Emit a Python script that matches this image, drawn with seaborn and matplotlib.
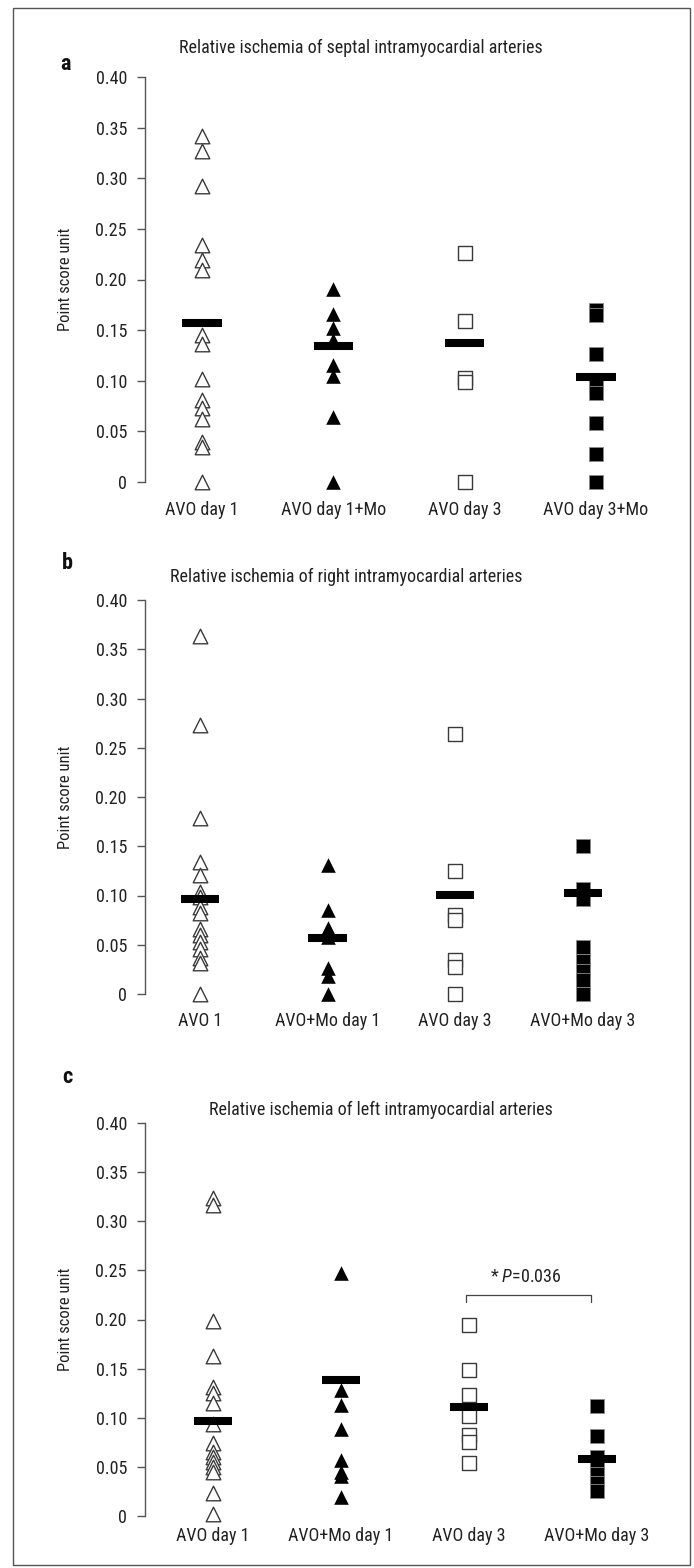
import matplotlib
matplotlib.use('Agg')
import matplotlib.pyplot as plt
import numpy as np
import pandas as pd
import seaborn as sns
from matplotlib import font_manager
from matplotlib.patches import Rectangle

# --- data ---
yticks = [0, 0.05, 0.10, 0.15, 0.20, 0.25, 0.30, 0.35, 0.40]
ytick_labels = ['0', '0.05', '0.10', '0.15', '0.20', '0.25', '0.30', '0.35', '0.40']

titles = ['Relative ischemia of septal intramyocardial arteries',
          'Relative ischemia of right intramyocardial arteries',
          'Relative ischemia of left intramyocardial arteries']
letters = ['a', 'b', 'c']

labels_a = ['AVO day 1', 'AVO day 1+Mo', 'AVO day 3', 'AVO day 3+Mo']
a_avo1 = [0.342, 0.327, 0.292, 0.234, 0.219, 0.209, 0.145, 0.136, 0.102,
          0.081, 0.073, 0.062, 0.040, 0.035, 0.0]
a_avo1_mo = [0.191, 0.166, 0.152, 0.140, 0.116, 0.105, 0.064, 0.0]
a_avo3 = [0.226, 0.159, 0.103, 0.099, 0.0]
a_avo3_mo = [0.170, 0.165, 0.126, 0.095, 0.088, 0.058, 0.028, 0.0]
a_means = [0.157, 0.134, 0.137, 0.104]

labels_b = ['AVO 1', 'AVO+Mo day 1', 'AVO day 3', 'AVO+Mo day 3']
b_avo1 = [0.363, 0.273, 0.179, 0.134, 0.121, 0.104, 0.098, 0.088, 0.082,
          0.066, 0.060, 0.053, 0.046, 0.037, 0.031, 0.0]
b_avo1_mo = [0.131, 0.085, 0.067, 0.058, 0.026, 0.018, 0.0]
b_avo3 = [0.264, 0.125, 0.080, 0.075, 0.035, 0.027, 0.0]
b_avo3_mo = [0.150, 0.107, 0.096, 0.048, 0.033, 0.023, 0.014, 0.0]
b_means = [0.096, 0.057, 0.101, 0.103]

labels_c = ['AVO day 1', 'AVO+Mo day 1', 'AVO day 3', 'AVO+Mo day 3']
c_avo1 = [0.324, 0.317, 0.198, 0.163, 0.131, 0.125, 0.115, 0.094, 0.074,
          0.065, 0.060, 0.055, 0.050, 0.045, 0.023, 0.002]
c_avo1_mo = [0.247, 0.128, 0.113, 0.089, 0.057, 0.045, 0.041, 0.019]
c_avo3 = [0.194, 0.149, 0.123, 0.102, 0.082, 0.075, 0.054]
c_avo3_mo = [0.112, 0.081, 0.060, 0.052, 0.043, 0.034, 0.025]
c_means = [0.097, 0.138, 0.111, 0.058]
p_value = '0.036'

# --- style ---
sns.set_style('ticks')
avail = {f.name for f in font_manager.fontManager.ttflist}
narrow = [f for f in ['Liberation Sans Narrow', 'Roboto Condensed',
                      'Noto Sans Condensed', 'Open Sans Condensed'] if f in avail]
plt.rcParams['font.family'] = narrow + ['Liberation Sans', 'DejaVu Sans']
main_font = (narrow + ['Liberation Sans'])[0]
plt.rcParams['mathtext.fontset'] = 'custom'
plt.rcParams['mathtext.it'] = main_font + ':italic'
plt.rcParams['mathtext.rm'] = main_font

W, H = 694, 1568
fig = plt.figure(figsize=(W / 100, H / 100), dpi=100)
fs = 13

# marker styles for the four groups: open/filled triangle, open/filled square
styles = [dict(marker='^', size=10.5, color='white', edgecolor='#3a3a3a', linewidth=1.0),
          dict(marker='^', size=10.5, color='black', edgecolor='black', linewidth=0),
          dict(marker='s', size=9.5, color='white', edgecolor='#3a3a3a', linewidth=1.0),
          dict(marker='s', size=9.5, color='black', edgecolor='#8a8a8a', linewidth=0.6)]

panels = [
    (labels_a, [a_avo1, a_avo1_mo, a_avo3, a_avo3_mo], a_means, 77, 482, 202, 131.3, 14),
    (labels_b, [b_avo1, b_avo1_mo, b_avo3, b_avo3_mo], b_means, 600, 994, 200, 127.6, 13),
    (labels_c, [c_avo1, c_avo1_mo, c_avo3, c_avo3_mo], c_means, 1123, 1516, 213, 128.0, 8),
]
title_pos = [(361, 48), (346, 577), (381, 1110)]
letter_pos = [(60, 64), (62, 563), (62, 1077)]

left_px, right_px = 145, 665
axes = []
for k, (labels, groups, means, top, bot, x0, dx, xpad) in enumerate(panels):
    ax = fig.add_axes([left_px / W, 1 - bot / H, (right_px - left_px) / W, (bot - top) / H])
    for lab, vals, st in zip(labels, groups, styles):
        df = pd.DataFrame({'group': [lab] * len(vals), 'value': vals})
        sns.stripplot(data=df, x='group', y='value', order=labels, jitter=False,
                      ax=ax, zorder=3, clip_on=False, **st)
    pos = np.arange(len(labels))
    ax.hlines(means, pos - 0.15, pos + 0.15, color='black', lw=5.8, zorder=5)

    ax.set_xlim(-(x0 - left_px) / dx, (right_px - x0) / dx)
    ax.set_ylim(0, 0.40)
    ax.set_yticks(yticks)
    ax.set_yticklabels(ytick_labels)
    ax.set_xticks(pos)
    ax.set_xticklabels(labels)
    ax.set_xlabel('')
    ax.set_ylabel('')
    for s in ['top', 'right', 'bottom']:
        ax.spines[s].set_visible(False)
    ax.spines['left'].set_color('#555555')
    ax.spines['left'].set_linewidth(1.0)
    ax.tick_params(axis='y', length=6, width=1.0, color='#555555', pad=7,
                   labelsize=fs, labelcolor='#222222')
    ax.tick_params(axis='x', length=0, pad=xpad, labelsize=fs, labelcolor='#222222')
    axes.append(ax)

    fig.text(title_pos[k][0] / W, 1 - title_pos[k][1] / H, titles[k],
             ha='center', va='center', fontsize=fs, color='#222222')
    fig.text(letter_pos[k][0] / W, 1 - letter_pos[k][1] / H, letters[k],
             ha='left', va='center', fontsize=16, fontweight='bold', color='#111111')
    fig.text(65 / W, 1 - (top + bot) / 2 / H, 'Point score unit', rotation=90,
             ha='center', va='center', fontsize=12, color='#222222')

# significance bracket in panel c
axc = axes[2]
axc.plot([1.98, 1.98, 2.95, 2.95], [0.218, 0.225, 0.225, 0.218],
         color='#444444', lw=0.9, zorder=4)
axc.text(2.44, 0.243, r'* $\mathit{P}$=' + p_value, ha='center', va='center',
         fontsize=fs, color='#222222')

# thin frame around the whole figure
fig.patches.append(Rectangle((13 / W, 1 - 1565 / H), (690 - 13) / W, (1565 - 8) / H,
                             transform=fig.transFigure, fill=False,
                             edgecolor='#555555', lw=1.0))

fig.savefig('out.png', dpi=100)
